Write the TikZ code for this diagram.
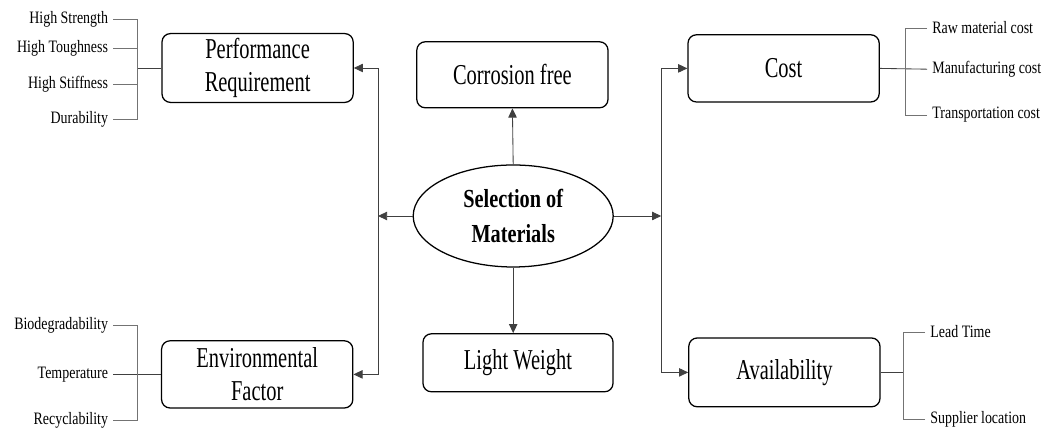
\documentclass[tikz,border=0pt]{standalone}
\usepackage{fontspec}
\setmainfont{Liberation Serif}
\newfontfamily\boxfont[FakeStretch=0.71]{Liberation Serif}
\newfontfamily\selfont[FakeStretch=0.78]{Liberation Serif}
\newfontfamily\itemfont[FakeStretch=0.8]{Liberation Serif}
\usetikzlibrary{arrows.meta,shapes.geometric}

\tikzset{
	factor/.style={draw=black,line width=0.9pt,rounded corners=6pt,minimum width=4.78cm,minimum height=1.68cm,align=center,font=\boxfont\fontsize{20.5}{23.5}\selectfont},
	item/.style={inner xsep=3.5pt,inner ysep=1pt,font=\itemfont\fontsize{12.4}{14}\selectfont},
	link/.style={draw=black!75,line width=0.6pt},
	brk/.style={draw=black!55,line width=0.6pt}
}

\begin{document}
\begin{tikzpicture}[>={Triangle[length=6.5pt,width=6pt]}]
	\useasboundingbox (0,0) rectangle (26.2,10.75);

	%centre
	\node[draw=black,line width=0.9pt,ellipse,minimum width=5cm,minimum height=2.55cm,align=center,font=\selfont\bfseries\fontsize{18.5}{24.9}\selectfont] (sel) at (12.83,5.35) {Selection of\\Materials}; %selection ellipse

	%factor boxes
	\node[factor,minimum height=1.7cm] (perf) at (6.44,9.05) {Performance\\Requirement}; %top left
	\node[factor,minimum height=1.65cm] (corr) at (12.81,8.88) {Corrosion free}; %top middle
	\node[factor] (cost) at (19.59,9.04) {Cost}; %top right
	\node[factor] (env) at (6.43,1.39) {Environmental\\Factor}; %bottom left
	\node[factor,minimum width=4.75cm,minimum height=1.45cm] (light) at (12.95,1.68) {Light Weight}; %bottom middle
	\node[factor,minimum height=1.72cm] (avail) at (19.61,1.44) {Availability}; %bottom right

	%arrows from the centre
	\draw[link,->] (sel.north) -- (corr.south); %up
	\draw[link,->] (sel.south) -- (sel.south |- light.north); %down
	\coordinate (lmid) at (9.45,5.35); %left bus
	\coordinate (rmid) at (16.53,5.35); %right bus
	\draw[link,->] (sel.west) -- (lmid); %left
	\draw[link,->] (lmid) |- (perf.east);
	\draw[link,->] (lmid) |- (env.east);
	\draw[link,->] (sel.east) -- (rmid); %right
	\draw[link,->] (rmid) |- (cost.west);
	\draw[link,->] (rmid) |- (avail.west);

	%performance items
	\coordinate (pbus) at (3.43,9.05);
	\node[item,anchor=east] (hstr) at (2.83,10.275) {High Strength};
	\node[item,anchor=east] (htou) at (2.83,9.55) {High Toughness};
	\node[item,anchor=east] (hsti) at (2.83,8.65) {High Stiffness};
	\node[item,anchor=east] (dur) at (2.83,7.775) {Durability};
	\draw[link] (pbus) -- (perf.west);
	\foreach \n in {hstr,htou,hsti,dur}
		\draw[brk] (\n.east) -| (pbus);

	%environmental items
	\coordinate (ebus) at (3.43,1.39);
	\node[item,anchor=east] (bio) at (2.83,2.625) {Biodegradability};
	\node[item,anchor=east] (temp) at (2.83,1.39) {Temperature};
	\node[item,anchor=east] (rec) at (2.83,0.24) {Recyclability};
	\draw[link] (temp.east) -- (env.west);
	\foreach \n in {bio,rec}
		\draw[brk] (\n.east) -| (ebus);

	%cost items
	\coordinate (cbus) at (22.63,9.02);
	\node[item,anchor=west] (raw) at (23.18,10.05) {Raw material cost};
	\node[item,anchor=west] (manu) at (23.18,9.02) {Manufacturing cost};
	\node[item,anchor=west] (trans) at (23.18,7.875) {Transportation cost};
	\draw[link] (cost.east) -- (manu.west);
	\foreach \n in {raw,trans}
		\draw[brk] (\n.west) -| (cbus);

	%availability items
	\coordinate (abus) at (22.58,1.44);
	\node[item,anchor=west] (lead) at (23.13,2.45) {Lead Time};
	\node[item,anchor=west] (supp) at (23.13,0.275) {Supplier location};
	\draw[link] (avail.east) -- (abus);
	\foreach \n in {lead,supp}
		\draw[brk] (\n.west) -| (abus);
\end{tikzpicture}
\end{document}
